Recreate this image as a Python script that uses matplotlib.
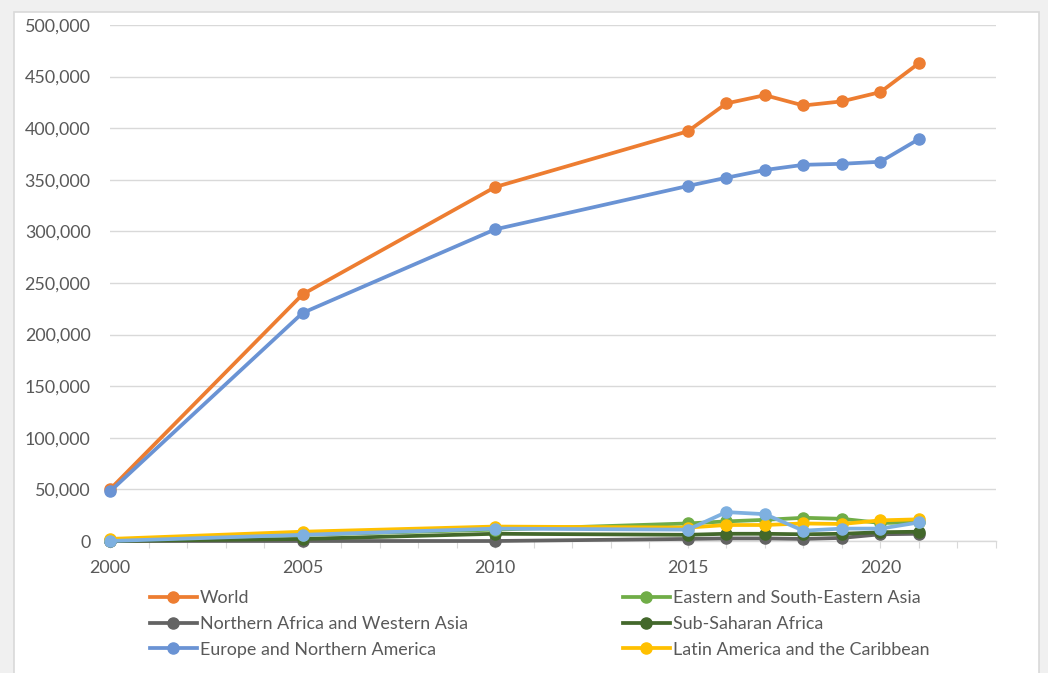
import matplotlib.pyplot as plt
from matplotlib.patches import Rectangle
from matplotlib.lines import Line2D

plt.rcParams['font.family'] = ['Lato', 'DejaVu Sans']

years = [2000, 2005, 2010, 2015, 2016, 2017, 2018, 2019, 2020, 2021]

world = [50000, 239000, 343000, 397000, 424000, 432000, 422000, 426000, 435000, 463000]
europe_n_america = [48000, 221000, 302000, 344000, 352000, 359500, 364500, 365500, 367500, 389500]
e_se_asia = [1000, 6000, 11000, 17000, 19000, 20500, 22500, 21500, 17500, 18000]
n_africa_w_asia = [0, 0, 0, 2000, 2500, 2500, 2000, 3000, 6500, 7000]
sub_saharan = [0, 2000, 7000, 6000, 7000, 7000, 6500, 7000, 8500, 9000]
latin_america = [2000, 9000, 14000, 13000, 15500, 15500, 17000, 16500, 20000, 21000]
other_region = [0, 6000, 12000, 11000, 28000, 26000, 10000, 12000, 12000, 18000]

series = [
    ('Northern Africa and Western Asia', n_africa_w_asia, '#636363'),
    ('Sub-Saharan Africa', sub_saharan, '#43682b'),
    ('Eastern and South-Eastern Asia', e_se_asia, '#70ad47'),
    ('Latin America and the Caribbean', latin_america, '#ffc000'),
    ('_other', other_region, '#7eb0e0'),
    ('World', world, '#ed7d31'),
    ('Europe and Northern America', europe_n_america, '#6a93d4'),
]

fig = plt.figure(figsize=(10.48, 6.73), dpi=100, facecolor='#f0f0f0')
# white chart area with a light border
fig.patches.append(Rectangle((14 / 1048, -0.05), (1039 - 14) / 1048, 1.05 - 12 / 673,
                             transform=fig.transFigure, facecolor='white',
                             edgecolor='#d9d9d9', linewidth=1.2, zorder=-10))

ax = fig.add_axes([110 / 1048, 1 - 541 / 673, (996 - 110) / 1048, (541 - 25) / 673])
ax.set_zorder(2)
ax.set_facecolor('none')

handles = {}
for i, (name, vals, col) in enumerate(series):
    ln, = ax.plot(years, vals, color=col, lw=2.7, marker='o', ms=8,
                  solid_capstyle='round', zorder=3 + i, clip_on=False)
    handles[name] = ln

ax.set_xlim(2000, 2023)
ax.set_ylim(0, 500000)
ax.set_yticks(range(0, 500001, 50000))
ax.yaxis.set_major_formatter(plt.FuncFormatter(lambda v, p: f'{int(v):,}'))
ax.set_xticks(range(2000, 2024))
ax.set_xticklabels([str(y) if y % 5 == 0 and y <= 2020 else '' for y in range(2000, 2024)])

ax.grid(axis='y', color='#d9d9d9', lw=1)
ax.set_axisbelow(True)
for s in ['top', 'right', 'left']:
    ax.spines[s].set_visible(False)
ax.spines['bottom'].set_color('#d9d9d9')
ax.spines['bottom'].set_linewidth(1)
ax.tick_params(axis='y', length=0, labelsize=12.9, labelcolor='#595959', pad=14)
ax.tick_params(axis='x', length=5, color='#d9d9d9', labelsize=12.9, labelcolor='#595959', pad=9)

def legend_at(names, x):
    hs = [Line2D([], [], color=handles[n].get_color(), lw=2.7, marker='o', ms=8) for n in names]
    leg = fig.legend(hs, names, loc='upper left', bbox_to_anchor=(x, 1 - 590 / 673),
                     frameon=False, fontsize=12.9, labelcolor='#595959', handlelength=2.6,
                     handletextpad=0.2, labelspacing=0.55, borderpad=0, borderaxespad=0)
    leg.set_zorder(3)
    return leg

legend_at(['World', 'Northern Africa and Western Asia', 'Europe and Northern America'], 150 / 1048)
legend_at(['Eastern and South-Eastern Asia', 'Sub-Saharan Africa',
           'Latin America and the Caribbean'], 623 / 1048)

fig.savefig('out.png', dpi=100, facecolor=fig.get_facecolor())
